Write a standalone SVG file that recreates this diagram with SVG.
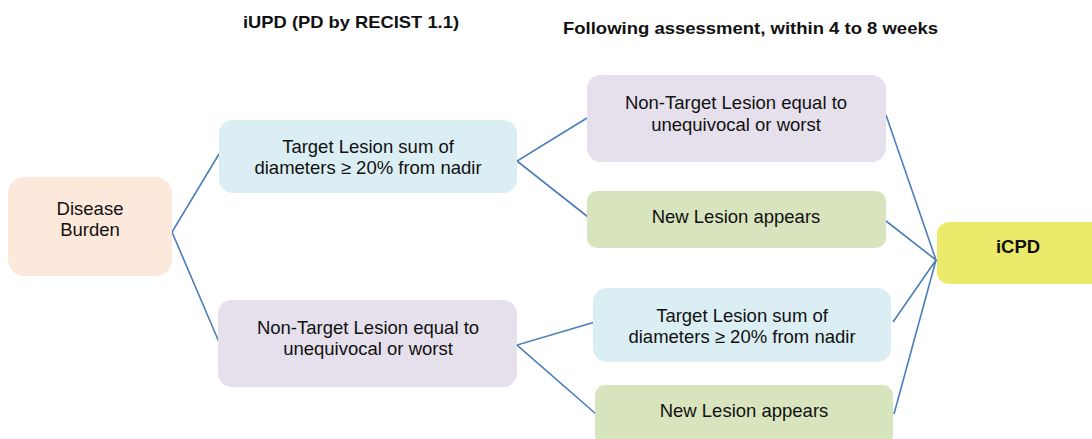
<svg xmlns="http://www.w3.org/2000/svg" width="1092" height="439" viewBox="0 0 1092 439">
<style>
text{font-family:"Liberation Sans",Arial,sans-serif;fill:#111;text-anchor:middle;font-size:18.5px}
.t{font-weight:bold;font-size:17px}
.b{font-weight:bold}
.c{stroke:#4a7ebb;stroke-width:1.6;fill:none}
.db{fill:#fde9db}.tl{fill:#dbeef4}.nt{fill:#e5e0ec}.nl{fill:#d8e4bd}.ic{fill:#ebea6a}
</style>
<rect width="1092" height="439" fill="#fff"/>
<text class="t" x="351" y="28" textLength="216" lengthAdjust="spacingAndGlyphs">iUPD (PD by RECIST 1.1)</text>
<text class="t" x="750.5" y="34" textLength="375" lengthAdjust="spacingAndGlyphs">Following assessment, within 4 to 8 weeks</text>
<g id="connectors">
<polyline class="c" points="219,154 172,232 219,342"/>
<polyline class="c" points="587,118 517,161 588,217"/>
<polyline class="c" points="595,322 517,345 596,414"/>
<polyline class="c" points="886,115 936,260 886,221"/>
<polyline class="c" points="893,322 936,260 894,414"/>
</g>
<g id="disease-burden"><rect class="db" x="8" y="177" width="164" height="99" rx="16"/><text x="90" y="215">Disease</text><text x="90" y="236">Burden</text></g>
<g id="target-lesion-1"><rect class="tl" x="219" y="120" width="298" height="73" rx="14"/><text x="368" y="153">Target Lesion sum of</text><text x="368" y="174">diameters ≥ 20% from nadir</text></g>
<g id="non-target-1"><rect class="nt" x="218" y="300" width="299" height="87" rx="14"/><text x="368" y="334">Non-Target Lesion equal to</text><text x="368" y="355">unequivocal or worst</text></g>
<g id="non-target-2"><rect class="nt" x="587" y="75" width="299" height="87" rx="14"/><text x="736" y="109">Non-Target Lesion equal to</text><text x="736" y="131">unequivocal or worst</text></g>
<g id="new-lesion-1"><rect class="nl" x="587" y="191" width="299" height="57" rx="10"/><text x="736" y="223">New Lesion appears</text></g>
<g id="target-lesion-2"><rect class="tl" x="593" y="288" width="298" height="74" rx="14"/><text x="742" y="322">Target Lesion sum of</text><text x="742" y="343">diameters ≥ 20% from nadir</text></g>
<g id="new-lesion-2"><rect class="nl" x="595" y="385" width="298" height="60" rx="10"/><text x="744" y="417">New Lesion appears</text></g>
<g id="icpd"><rect class="ic" x="937" y="222" width="170" height="62" rx="12"/><text class="b" x="1018" y="253">iCPD</text></g>
</svg>
